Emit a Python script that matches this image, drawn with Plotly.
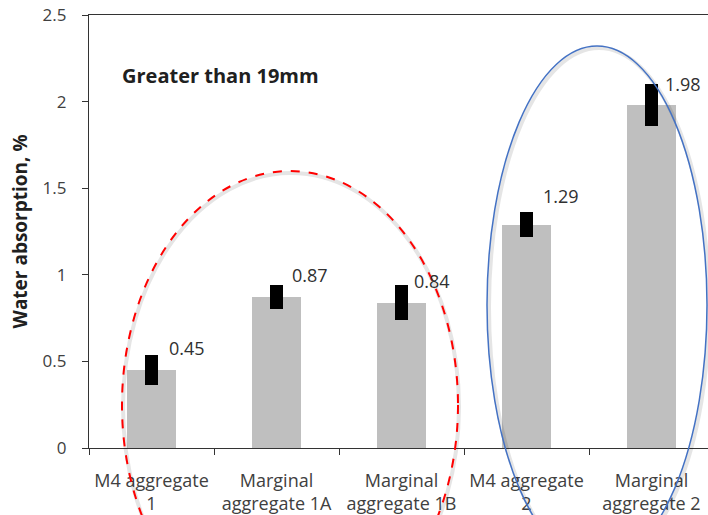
import plotly.graph_objects as go

# Aggregate groups on the category axis
categories = ["M4 aggregate 1", "Marginal aggregate 1A", "Marginal aggregate 1B",
              "M4 aggregate 2", "Marginal aggregate 2"]
tick_text = ["M4 aggregate<br>1", "Marginal<br>aggregate 1A", "Marginal<br>aggregate 1B",
             "M4 aggregate<br>2", "Marginal<br>aggregate 2"]

# Mean water absorption (%) and the spread shown as error bars
absorption = [0.45, 0.87, 0.84, 1.29, 1.98]
spread = [0.085, 0.07, 0.10, 0.07, 0.12]

# value-label placement (pixels) relative to each bar top
label_dx = [15, 13, 10, 14, 11]
label_dy = [22, 22, 22, 29, 21]

TXT = "#404040"
FONT = "Open Sans"

fig = go.Figure()
fig.add_trace(go.Bar(
    x=categories,
    y=absorption,
    width=0.385,
    marker=dict(color="#BFBFBF", line=dict(width=0)),
    error_y=dict(type="data", array=spread, visible=True,
                 color="black", thickness=13, width=0),
    hoverinfo="skip",
))

annotations = []
for c, v, dx, dy in zip(categories, absorption, label_dx, label_dy):
    annotations.append(dict(
        x=c, y=v, xref="x", yref="y", text=f"{v:.2f}",
        showarrow=False, xanchor="left", yanchor="middle",
        xshift=dx, yshift=dy,
        font=dict(family=FONT, size=18, color="#303030"),
    ))

# Panel caption
annotations.append(dict(
    x=0.05, y=0.861, xref="paper", yref="paper",
    text="<b>Greater than 19mm</b>", showarrow=False,
    xanchor="left", yanchor="middle",
    font=dict(family=FONT, size=20, color="#202020"),
))

# Y-axis title
annotations.append(dict(
    x=-0.1115, y=0.5, xref="paper", yref="paper",
    text="<b>Water absorption, %</b>", showarrow=False, textangle=-90,
    xanchor="center", yanchor="middle",
    font=dict(family=FONT, size=19, color="#202020"),
))

# plot area: x 89..708 px, y 15..448 px
PX0, PW, PY0, PH = 89, 619, 448, 433


def px(x):
    return (x - PX0) / PW


def py(y):
    return (PY0 - y) / PH


shapes = [
    # soft shadows
    dict(type="circle", xref="paper", yref="paper",
         x0=px(123), x1=px(459), y0=py(173), y1=py(641),
         line=dict(color="rgba(0,0,0,0.10)", width=4), layer="above"),
    dict(type="circle", xref="paper", yref="paper",
         x0=px(489), x1=px(709), y0=py(48), y1=py(566),
         line=dict(color="rgba(0,0,0,0.10)", width=4), layer="above"),
    # red dashed ring around group 1
    dict(type="circle", xref="paper", yref="paper",
         x0=px(122), x1=px(458), y0=py(171), y1=py(639),
         line=dict(color="#FF0000", width=2, dash="dash"), layer="above"),
    # blue ring around group 2
    dict(type="circle", xref="paper", yref="paper",
         x0=px(487), x1=px(707), y0=py(46), y1=py(564),
         line=dict(color="#4472C4", width=1.5), layer="above"),
]

fig.update_layout(
    width=708, height=515,
    margin=dict(l=89, r=0, t=15, b=67),
    paper_bgcolor="white", plot_bgcolor="white",
    showlegend=False,
    bargap=0,
    annotations=annotations,
    shapes=shapes,
    font=dict(family=FONT, color=TXT),
)
fig.update_xaxes(
    type="category",
    range=[-0.5, 4.452],
    tickvals=categories, ticktext=tick_text,
    tickson="boundaries",
    ticks="outside", ticklen=6, tickcolor="#333333",
    showline=True, linecolor="#333333", linewidth=1.3, mirror=True,
    showgrid=False, zeroline=False,
    tickfont=dict(family=FONT, size=18, color=TXT),
    ticklabelstandoff=16,
    automargin=False,
)
fig.update_yaxes(
    range=[0, 2.5], dtick=0.5, tickformat="~g",
    ticks="outside", ticklen=6, tickcolor="#333333",
    showline=True, linecolor="#333333", linewidth=1.3,
    showgrid=False, zeroline=False,
    tickfont=dict(family=FONT, size=17, color=TXT),
    ticklabelstandoff=12,
    automargin=False,
)

fig.write_html("out.html")
